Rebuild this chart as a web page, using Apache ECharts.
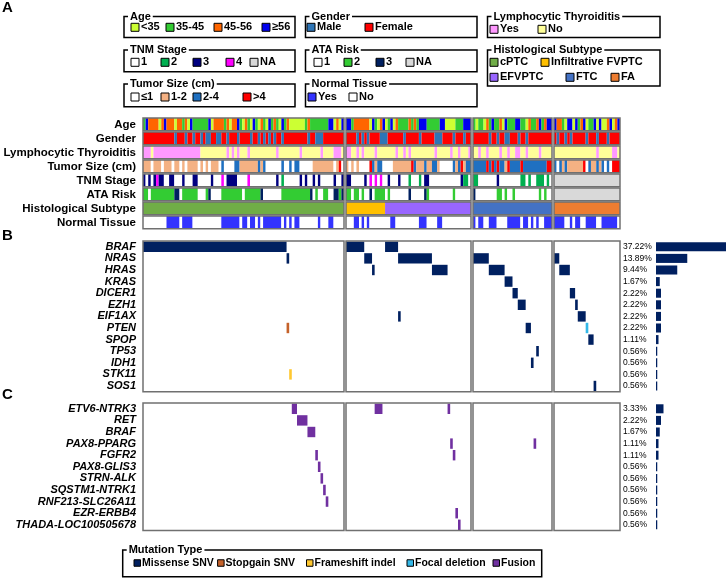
<!DOCTYPE html>
<html>
<head>
<meta charset="utf-8">
<script src="https://cdn.jsdelivr.net/npm/echarts@6/dist/echarts.min.js"></script>
<style>
  html, body { margin: 0; padding: 0; background: #fff; }
  #main { width: 726px; height: 578px; }
</style>
</head>
<body>
<div id="main"></div>
<script>
// samples per histology group: cPTC, FVPTC, FTC, FA (180 in total)
const groupSizes = [77, 48, 30, 25];

const trackNames = ['Age', 'Gender', 'Lymphocytic Thyroiditis', 'Tumor Size (cm)',
  'TNM Stage', 'ATA Risk', 'Histological Subtype', 'Normal Tissue'];

// one letter per sample, one string per group (spaces only for reading)
const ageTrack = [
  'GBOOOOYOBO OOYOOGOYBG GGGGGBYOOO OGOYOOBGYO GYBGYOGYBG OGYBGOYYYY YYGOGGGGGG GBBYOYB',
  'BBGOOOOOOY BGYOBYGBYO GGGGOGOGBB BGGGGGBBYY YYGGGBBB',
  'GYGGYOGBGG OYBGGGBBGG YOGGOBGOBB',
  'BOOGYBBYBG OBYGGBYBYY OBYOB'
];
const genderTrack = [
  'FFFFFFFFFF FFMFFFMFFM FFMFMMFFMM FFMFFFMFFF FMFFMFMFMF MFFMFFFFFF FFFMFFMMMF FFFFFFF',
  'FFFFMFMFMF FFFMMMFFFF FFMFFFFFMF FFFFMMMFFF FMFFFMFF',
  'FFFFFFMFFM FFMMFFFMFF MFFFFFFFFF',
  'FMFFMFMFFF FFMFFFMFFF MFFFF'
];
const ltTrack = [
  'PPPNPPPPPP PPPPPPPPPP PPNNNNNNNN NNPNPNPNNN PNNNNNNNNN NPNNNNNNNN PNNNNNNNPN NNNPPPN',
  'PPNNPNPNNN NPNNNNNNNP NNPNPNNNNN NNNNPNNNNN PNNPNNNP',
  'NNPNNPNNNN PNNPNNPPNN PNNNNPNNNN',
  'NNNNNNNNNN NNNNNNPNNN NNPPN'
];
const tumorTrack = [
  'PPPWPPPWPP PWPPWPWPPP PWPWPWPPPW BWWWWBBPPP PPPPBPBWWW WWWBWWBWBB WWWWWPPPPP PPPWPRW',
  'PWPWPWWWWR BPBBWWWWPP PPPPPRBPPP BPPBBPWWWW WBPBRPBB',
  'BBBBBRBRBR BBPRBBBBRB BBBBBBBBRR',
  'BWBPBPPPPP PRWBPPBPBW BWRRR'
];
const tnmTrack = [
  'NWNWNMNNWW NNWWWNWWWN NWWWWWNWWW MWNNNNWWWW MWWWWWWWWW WNWGWWWWWW NWNWWNWNWW WWWNWWN',
  'NNWWWWWNWM WMWMWWNWWW NWWWGWWWGW NNWWWWWWWW WWWWNGGW',
  'GGWWWWWWWN WWWWWWWWGG WGWWGGGWGW',
  'AAAAAAAAAA AAAAAAAAAA AAAAA'
];
const ataTrack = [
  'GGWGGGGGGG GGNNWGGGGG GWWWGNWWWW GGGGGGGGWG GGGGGNWWWW WWWGGGGGGG GGGGNWGWWG GWWNNGN',
  'GGWGGWGWWN WGGGGWGWWW WWWWNWWWWW NGWWWWWWWW WGWWWWWW',
  'NWWWWWWWWG GWGWWGWWWW WWWWWGWGWW',
  'AAAAAAAAAA AAAAAAAAAA AAAAA'
];
const histTrack = [
  'CCCCCCCCCC CCCCCCCCCC CCCCCCCCCC CCCCCCCCCC CCCCCCCCCC CCCCCCCCCC CCCCCCCCCC CCCCCCC',
  'IIIIIIIIII IIIIIEEEEE EEEEEEEEEE EEEEEEEEEE EEEEEEEE',
  'TTTTTTTTTT TTTTTTTTTT TTTTTTTTTT',
  'AAAAAAAAAA AAAAAAAAAA AAAAA'
];
const normalTrack = [
  'WWWWWWWWWY YYYYWYYYYW WWWWWWWWWW YYYYYYYWYY WYYWYWYYYY YYYWYWYWYY WWWWWWWYWW WYYWWWW',
  'WWWYYWYWYW WWWWWWWYYW WWWWWWWWYY YWWWWYYWWW WWWWWWWW',
  'YWYYWWYYYW WWWYYYYYWY YWYWYWWYYY',
  'YYYYWWYWYY WWYYYYWWYY YYYYW'
];

const geneNames = ['BRAF', 'NRAS', 'HRAS', 'KRAS', 'DICER1', 'EZH1', 'EIF1AX',
  'PTEN', 'SPOP', 'TP53', 'IDH1', 'STK11', 'SOS1'];
const genePct = [37.22, 13.89, 9.44, 1.67, 2.22, 2.22, 2.22, 2.22, 1.11, 0.56, 0.56, 0.56, 0.56];
// [gene, group, first sample, last sample, type]
const geneHits = [
  ['BRAF', 0, 0, 54, 'M'], ['BRAF', 1, 0, 6, 'M'], ['BRAF', 1, 15, 19, 'M'],
  ['NRAS', 0, 55, 55, 'M'], ['NRAS', 1, 7, 9, 'M'], ['NRAS', 1, 20, 32, 'M'],
  ['NRAS', 2, 0, 5, 'M'], ['NRAS', 3, 0, 1, 'M'],
  ['HRAS', 1, 10, 10, 'M'], ['HRAS', 1, 33, 38, 'M'], ['HRAS', 2, 6, 11, 'M'], ['HRAS', 3, 2, 5, 'M'],
  ['KRAS', 2, 12, 14, 'M'],
  ['DICER1', 2, 15, 16, 'M'], ['DICER1', 3, 6, 7, 'M'],
  ['EZH1', 2, 17, 19, 'M'], ['EZH1', 3, 8, 8, 'M'],
  ['EIF1AX', 1, 20, 20, 'M'], ['EIF1AX', 3, 9, 11, 'M'],
  ['PTEN', 0, 55, 55, 'S'], ['PTEN', 2, 20, 21, 'M'], ['PTEN', 3, 12, 12, 'D'],
  ['SPOP', 3, 13, 14, 'M'],
  ['TP53', 2, 24, 24, 'M'],
  ['IDH1', 2, 22, 22, 'M'],
  ['STK11', 0, 56, 56, 'F'],
  ['SOS1', 3, 15, 15, 'M']
];

const fusionNames = ['ETV6-NTRK3', 'RET', 'BRAF', 'PAX8-PPARG', 'FGFR2', 'PAX8-GLIS3',
  'STRN-ALK', 'SQSTM1-NTRK1', 'RNF213-SLC26A11', 'EZR-ERBB4', 'THADA-LOC100505678'];
const fusionPct = [3.33, 2.22, 1.67, 1.11, 1.11, 0.56, 0.56, 0.56, 0.56, 0.56, 0.56];
const fusionHits = [
  ['ETV6-NTRK3', 0, 57, 58, 'U'], ['ETV6-NTRK3', 1, 11, 13, 'U'], ['ETV6-NTRK3', 1, 39, 39, 'U'],
  ['RET', 0, 59, 62, 'U'],
  ['BRAF', 0, 63, 65, 'U'],
  ['PAX8-PPARG', 1, 40, 40, 'U'], ['PAX8-PPARG', 2, 23, 23, 'U'],
  ['FGFR2', 0, 66, 66, 'U'], ['FGFR2', 1, 41, 41, 'U'],
  ['PAX8-GLIS3', 0, 67, 67, 'U'],
  ['STRN-ALK', 0, 68, 68, 'U'],
  ['SQSTM1-NTRK1', 0, 69, 69, 'U'],
  ['RNF213-SLC26A11', 0, 70, 70, 'U'],
  ['EZR-ERBB4', 1, 42, 42, 'U'],
  ['THADA-LOC100505678', 1, 43, 43, 'U']
];

// legend categories (code letter -> label)
const ageCats = [['Y', '<35'], ['G', '35-45'], ['O', '45-56'], ['B', '≥56']];
const genderCats = [['M', 'Male'], ['F', 'Female']];
const ltCats = [['P', 'Yes'], ['N', 'No']];
const tnmCats = [['W', '1'], ['G', '2'], ['N', '3'], ['M', '4'], ['A', 'NA']];
const ataCats = [['W', '1'], ['G', '2'], ['N', '3'], ['A', 'NA']];
const histCats = [['C', 'cPTC'], ['I', 'Infiltrative FVPTC'], ['E', 'EFVPTC'], ['T', 'FTC'], ['A', 'FA']];
const tumorCats = [['W', '≤1'], ['P', '1-2'], ['B', '2-4'], ['R', '>4']];
const normalCats = [['Y', 'Yes'], ['W', 'No']];
const mutCats = [['M', 'Missense SNV'], ['S', 'Stopgain SNV'], ['F', 'Frameshift indel'], ['D', 'Focal deletion'], ['U', 'Fusion']];

// colours
const ageColors = { Y: '#ccff33', G: '#33cc33', O: '#ff6600', B: '#0000ee' };
const genderColors = { M: '#2e75b6', F: '#ff0000' };
const ltColors = { P: '#ff99ff', N: '#ffff99' };
const tumorColors = { W: '#ffffff', P: '#f4b183', B: '#1f70c1', R: '#ff0000' };
const tnmColors = { W: '#ffffff', G: '#00b050', N: '#000080', M: '#ff00ff', A: '#d9d9d9' };
const ataColors = { W: '#ffffff', G: '#33cc33', N: '#002060', A: '#d9d9d9' };
const histColors = { C: '#70ad47', I: '#ffc000', E: '#9966ff', T: '#4472c4', A: '#ed7d31' };
const normalColors = { Y: '#3333ff', W: '#ffffff' };
const mutColors = { M: '#002060', S: '#c5622a', F: '#ffc830', D: '#33b8e8', U: '#7030a0' };

const FONT = 'Liberation Sans, Arial, sans-serif';
const BOX = '#707070';

const trackData = [ageTrack, genderTrack, ltTrack, tumorTrack, tnmTrack, ataTrack, histTrack, normalTrack];
const trackColors = [ageColors, genderColors, ltColors, tumorColors, tnmColors, ataColors, histColors, normalColors];

const groupLeft = [143, 346, 473, 554];
const groupWidth = [201, 125, 79, 66];

// runs of equal codes in one group string
function runs(str) {
  const s = str.replace(/ /g, '');
  const out = [];
  let start = 0;
  for (let i = 1; i <= s.length; i++) {
    if (i === s.length || s[i] !== s[start]) {
      out.push([start, i, s[start]]);
      start = i;
    }
  }
  return out;
}

function cellRender(padTop, padBottom) {
  return function (params, api) {
    const t = api.value(1);
    const a = api.coord([api.value(0), t]);
    const b = api.coord([api.value(2), t]);
    const h = api.size([0, 1])[1];
    return {
      type: 'rect',
      shape: { x: a[0], y: a[1] - h / 2 + padTop, width: b[0] - a[0], height: h - padTop - padBottom },
      style: { fill: api.visual('color') }
    };
  };
}

function boxRender(padTop, padBottom) {
  return function (params, api) {
    const t = api.value(1);
    const a = api.coord([api.value(0), t]);
    const b = api.coord([api.value(2), t]);
    const h = api.size([0, 1])[1];
    return {
      type: 'rect',
      shape: { x: a[0], y: a[1] - h / 2 + padTop, width: b[0] - a[0], height: h - padTop - padBottom },
      style: { fill: 'none', stroke: BOX, lineWidth: 1.5 }
    };
  };
}

const grids = [], xAxes = [], yAxes = [], series = [];

function addMatrix(g, top, height, names, labelStyle) {
  const idx = grids.length;
  grids.push({ left: groupLeft[g], top: top, width: groupWidth[g], height: height });
  xAxes.push({ gridIndex: idx, type: 'value', min: 0, max: groupSizes[g], show: false });
  yAxes.push({
    gridIndex: idx, type: 'category', data: names, inverse: true,
    axisLine: { show: false }, axisTick: { show: false }, splitLine: { show: false },
    axisLabel: Object.assign({ show: g === 0, interval: 0, margin: 7, color: '#000',
      fontFamily: FONT, fontWeight: 'bold' }, labelStyle)
  });
  return idx;
}

// clinical tracks
for (let g = 0; g < 4; g++) {
  const idx = addMatrix(g, 118, 8 * 14, trackNames, { fontSize: 11.5 });
  const cells = [];
  trackData.forEach((tr, t) => {
    runs(tr[g]).forEach(r => {
      cells.push({ value: [r[0], t, r[1]], itemStyle: { color: trackColors[t][r[2]] } });
    });
  });
  series.push({ type: 'custom', xAxisIndex: idx, yAxisIndex: idx, renderItem: cellRender(0, 1.2), data: cells, silent: true });
  series.push({
    type: 'custom', xAxisIndex: idx, yAxisIndex: idx, renderItem: boxRender(0, 1.2), silent: true,
    data: trackNames.map((n, t) => ({ value: [0, t, groupSizes[g]] }))
  });
}

// mutation and fusion matrices
function addHits(top, pitch, names, hits) {
  for (let g = 0; g < 4; g++) {
    const idx = addMatrix(g, top, names.length * pitch, names, { fontSize: 11, fontStyle: 'italic' });
    const cells = hits.filter(h => h[1] === g).map(h => ({
      value: [h[2], names.indexOf(h[0]), h[3] + 1], itemStyle: { color: mutColors[h[4]] }
    }));
    series.push({ type: 'custom', xAxisIndex: idx, yAxisIndex: idx, renderItem: cellRender(0.6, 0.6), data: cells, silent: true });
    series.push({
      type: 'custom', xAxisIndex: idx, yAxisIndex: idx, silent: true,
      renderItem: function (params, api) {
        const a = api.coord([0, 0]);
        const b = api.coord([groupSizes[g], names.length - 1]);
        const h = api.size([0, 1])[1];
        return { type: 'rect', shape: { x: a[0], y: a[1] - h / 2, width: b[0] - a[0], height: b[1] - a[1] + h },
          style: { fill: 'none', stroke: BOX, lineWidth: 1.5 } };
      },
      data: [{ value: [0, 0, 0] }]
    });
  }
}
addHits(241, 11.6, geneNames, geneHits);
addHits(403, 11.6, fusionNames, fusionHits);

// frequency bars
function addBars(top, pitch, pct) {
  const idx = grids.length;
  grids.push({ left: 656, top: top, width: 70, height: pct.length * pitch });
  xAxes.push({ gridIndex: idx, type: 'value', min: 0, max: 31.1, show: false });
  yAxes.push({
    gridIndex: idx, type: 'category', inverse: true,
    data: pct.map(v => v.toFixed(2) + '%'),
    axisLine: { show: false }, axisTick: { show: false },
    axisLabel: { interval: 0, align: 'left', margin: 33, fontSize: 8.5, color: '#000', fontFamily: FONT }
  });
  series.push({
    type: 'bar', xAxisIndex: idx, yAxisIndex: idx, data: pct, barWidth: '78%',
    itemStyle: { color: mutColors.M }, silent: true
  });
}
addBars(241, 11.6, genePct);
addBars(403, 11.6, fusionPct);

// legend boxes
const graphics = [];
function legendBox(x0, x1, y0, y1, title, items, fs) {
  graphics.push({ type: 'rect', shape: { x: x0, y: y0, width: x1 - x0, height: y1 - y0 },
    style: { fill: 'none', stroke: '#000', lineWidth: 1.5 } });
  graphics.push({ type: 'text', x: x0 + 4, y: y0, style: { text: title, fill: '#000', fontFamily: FONT,
    fontSize: 11, fontWeight: 'bold', verticalAlign: 'middle', backgroundColor: '#fff', padding: [0, 2] } });
  items.forEach(it => {
    const sw = it[5] || 8;
    graphics.push({ type: 'rect', shape: { x: it[0], y: it[1] - sw / 2, width: sw, height: sw },
      style: { fill: it[2], stroke: '#000', lineWidth: 1 } });
    graphics.push({ type: 'text', x: it[0] + (it[4] || 10), y: it[1], style: { text: it[3], fill: '#000',
      fontFamily: FONT, fontSize: fs || 11, fontWeight: 'bold', verticalAlign: 'middle' } });
  });
}
function items(cats, colors, xs, ys, gap, sw) {
  return cats.map((c, i) => [xs[i], Array.isArray(ys) ? ys[i] : ys, colors[c[0]], c[1], gap, sw]);
}
legendBox(124, 295, 16.5, 37.5, 'Age', items(ageCats, ageColors, [131, 166, 214, 262], 27.3));
legendBox(305.5, 477, 16.5, 37.5, 'Gender', items(genderCats, genderColors, [307, 365], 27.3));
legendBox(487.5, 660, 16.5, 37.5, 'Lymphocytic Thyroiditis', items(ltCats, ltColors, [490, 538], 29.3));
legendBox(124, 295, 50, 71.7, 'TNM Stage', items(tnmCats, tnmColors, [131, 161, 193, 226, 250], 62.3));
legendBox(305.5, 477, 50, 71.7, 'ATA Risk', items(ataCats, ataColors, [314, 344, 376, 406], 62.3));
legendBox(487.5, 660, 50, 86, 'Histological Subtype',
  items(histCats, histColors, [490, 541, 490, 566, 611], [62.3, 62.3, 77.3, 77.3, 77.3]));
legendBox(124, 295, 84, 106.7, 'Tumor Size (cm)', items(tumorCats, tumorColors, [131, 161, 193, 243], 97));
legendBox(305.5, 477, 84, 106.7, 'Normal Tissue', items(normalCats, normalColors, [308, 349], 97));
legendBox(122.7, 541.7, 550, 576.7, 'Mutation Type',
  items(mutCats, mutColors, [134, 217.6, 306.5, 407, 493], 563, 8, 6.5), 10.5);

// panel letters
[['A', 8], ['B', 236], ['C', 395]].forEach(p => {
  graphics.push({ type: 'text', x: 2, y: p[1], style: { text: p[0], fill: '#000', fontFamily: FONT,
    fontSize: 15, fontWeight: 'bold', verticalAlign: 'middle' } });
});

const chart = echarts.init(document.getElementById('main'));
chart.setOption({
  animation: false,
  backgroundColor: '#fff',
  textStyle: { fontFamily: FONT },
  grid: grids,
  xAxis: xAxes,
  yAxis: yAxes,
  series: series,
  graphic: graphics
});
</script>
</body>
</html>
